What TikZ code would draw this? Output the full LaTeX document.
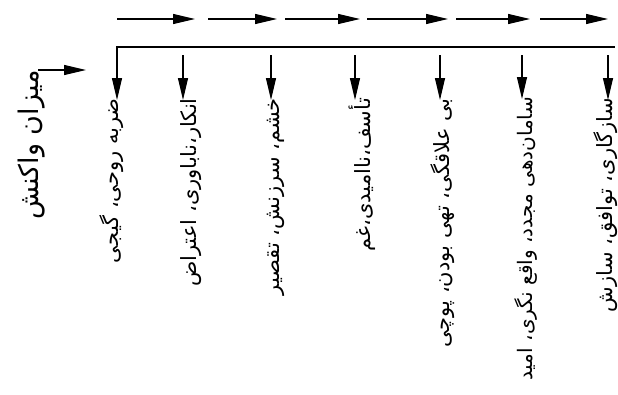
\documentclass[tikz,border=0pt]{standalone}
\usepackage{fontspec}
\newfontfamily\arabicfont[Script=Arabic]{DejaVu Sans}
\TeXXeTstate=1
\usetikzlibrary{arrows.meta}
\tikzset{
  harr/.style={line width=1.2pt,-{Triangle[length=22pt,width=10pt]}},
  varr/.style={line width=1.2pt,-{Triangle[length=22pt,width=10pt]}},
  bar/.style={line width=2.4pt},
  lbl/.style={rotate=90,anchor=east,inner sep=0pt,font=\arabicfont\fontsize{21}{24}\selectfont},
  smlbl/.style={rotate=90,anchor=east,inner sep=0pt,font=\arabicfont\fontsize{20}{24}\selectfont},
  biglbl/.style={rotate=90,anchor=east,inner sep=0pt,font=\arabicfont\fontsize{27}{30}\selectfont}
}
\begin{document}
\begin{tikzpicture}[x=1pt,y=-1pt]
\useasboundingbox (0,0) rectangle (618,394);
% top arrows
\foreach \i/\a/\b in {1/117/195,2/208/277,3/285/360,4/367/448,5/456/530,6/540/608}{
  \coordinate (ts\i) at (\a,19);
  \coordinate (te\i) at (\b,19);
  \draw[harr] (ts\i) -- (te\i);
}
% bar
\coordinate (b0) at (116,47);
\coordinate (b1) at (615,47);
\draw[bar] (b0) -- (b1);
% left label
\node[biglbl] (L) at (32,70) {\beginR میزان واکنش\endR};
\coordinate (la0) at (38,70);
\coordinate (la) at (86,70);
\draw[harr] (la0) -- (la);
% columns
\node[lbl] (t1) at (112,98) {\beginR ضربه روحی، گیجی\endR};
\node[lbl] (t2) at (191,98) {\beginR انکار،ناباوری، اعتراض\endR};
\node[lbl] (t3) at (276,98) {\beginR خشم، سرزنش، تقصیر\endR};
\node[lbl] (t4) at (362,98) {\beginR تأسف،ناامیدی،غم\endR};
\node[lbl] (t5) at (443,98) {\beginR بی علاقگی، تهی بودن، پوچی\endR};
\node[smlbl] (t6) at (526,97) {\beginR سامان‌دهی مجدد، واقع نگری، امید\endR};
\node[lbl] (t7) at (606,98) {\beginR سازگاری، توافق، سازش\endR};
% column arrows
\coordinate (a1) at (117,47);
\coordinate (a2) at (183,55);
\coordinate (a3) at (271,55);
\coordinate (a4) at (355,55);
\coordinate (a5) at (440,55);
\coordinate (a6) at (522,55);
\coordinate (a7) at (608,55);
\foreach \i in {1,...,7}{
  \draw[varr] (a\i) -- ([yshift=-2pt]a\i |- t\i.east);
}
\end{tikzpicture}
\end{document}
